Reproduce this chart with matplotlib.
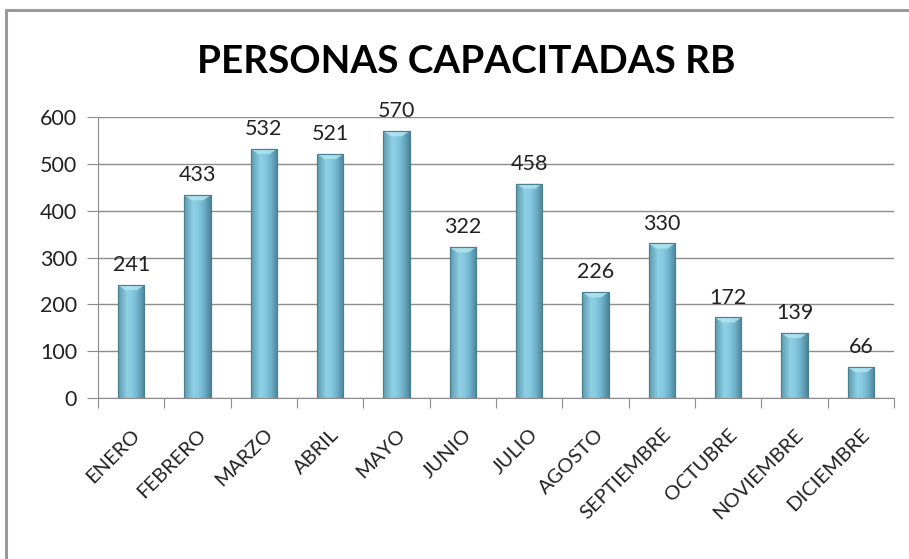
import matplotlib
matplotlib.use("Agg")
from matplotlib import pyplot as plt
from matplotlib.patches import Rectangle, Polygon
from matplotlib.lines import Line2D
from matplotlib.transforms import ScaledTranslation
import numpy as np

meses = ["ENERO", "FEBRERO", "MARZO", "ABRIL", "MAYO", "JUNIO", "JULIO",
         "AGOSTO", "SEPTIEMBRE", "OCTUBRE", "NOVIEMBRE", "DICIEMBRE"]
personas = [241, 433, 532, 521, 570, 322, 458, 226, 330, 172, 139, 66]
yticks = [0, 100, 200, 300, 400, 500, 600]
titulo = "PERSONAS CAPACITADAS RB"

plt.rcParams['font.family'] = ['Lato', 'DejaVu Sans']

fig = plt.figure(figsize=(9.09, 5.59), dpi=100)
ax = fig.add_axes([0.1078, 0.288, 0.8757, 0.5027])

# marco exterior (solo arriba e izquierda se ven)
fig.lines.append(Line2D([0.0066, 0.0066, 1.0], [0.0, 0.983, 0.983], transform=fig.transFigure,
                        color="#9a9a9a", lw=2.2))

x = np.arange(len(meses))
w = 0.4
bars = ax.bar(x, personas, width=w, color="#73b5ca", edgecolor="#4a7f90", lw=0.8, zorder=3)

# degradado horizontal en cada barra
grad = np.array([0.0, 0.35, 0.55, 0.75, 1.0])
cols = np.array([[0.36, 0.60, 0.68], [0.56, 0.82, 0.90], [0.52, 0.78, 0.87],
                 [0.43, 0.69, 0.79], [0.30, 0.52, 0.60]])
xs = np.linspace(0, 1, 64)
img = np.stack([np.interp(xs, grad, cols[:, i]) for i in range(3)], axis=-1)[None, :, :]
for b, v in zip(bars, personas):
    x0 = b.get_x()
    im = ax.imshow(img, extent=[x0, x0 + w, 0, v], aspect="auto", zorder=3.5)
    im.set_clip_path(b)
    bev = min(11, v * 0.25)
    ax.add_patch(Polygon([[x0, v], [x0 + w, v], [x0 + w * 0.72, v - bev], [x0 + w * 0.28, v - bev]],
                         closed=True, facecolor="#b4e6f2", edgecolor="none", alpha=0.8, zorder=4))
    ax.add_patch(Rectangle((x0, 0), w, v, fill=False, edgecolor="#4a7f90", lw=0.8, zorder=5))
    ax.annotate(str(v), (x0 + w / 2, v), xytext=(0, 7), textcoords="offset points",
                ha="center", va="bottom", fontsize=15.5, color="#222222")

ax.set_xlim(-0.5, len(meses) - 0.5)
ax.set_ylim(0, 600)
ax.set_yticks(yticks)
ax.set_xticks(np.arange(len(meses) + 1) - 0.5, minor=False)
ax.set_xticklabels([])
ax.set_xticks(x, minor=True)
ax.set_xticklabels(meses, minor=True, rotation=45, ha="right", rotation_mode="anchor",
                   fontsize=14.5, color="#222222")
desplazar = ScaledTranslation(10 / 100, 0, fig.dpi_scale_trans)
for lbl in ax.xaxis.get_minorticklabels():
    lbl.set_transform(lbl.get_transform() + desplazar)
ax.tick_params(axis="x", which="minor", length=0, pad=20)
ax.tick_params(axis="x", which="major", length=7, color="#8c8c8c", direction="out")
ax.tick_params(axis="y", length=8, color="#8c8c8c", labelsize=15.5, labelcolor="#222222", pad=7)
ax.yaxis.grid(True, color="#8c8c8c", lw=1)
ax.set_axisbelow(True)
for s in ["top", "right"]:
    ax.spines[s].set_visible(False)
for s in ["left", "bottom"]:
    ax.spines[s].set_color("#8c8c8c")

fig.text(0.513, 0.89, titulo, ha="center", va="center", fontsize=27.8, fontweight="bold", color="black")

fig.savefig("out.png", dpi=100)
